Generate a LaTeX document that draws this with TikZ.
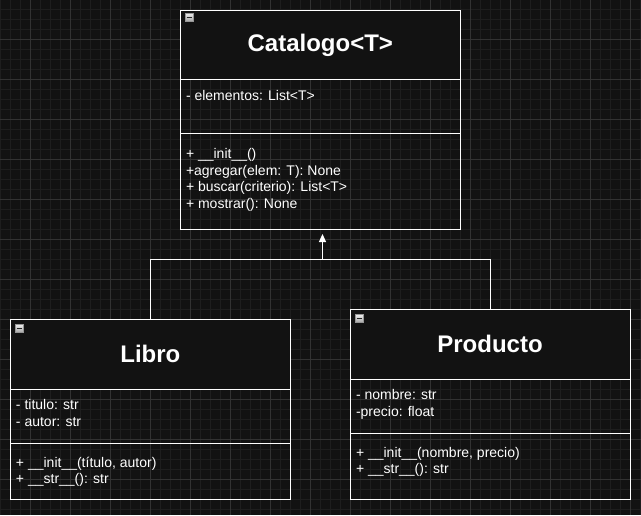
\documentclass[tikz,border=0pt]{standalone}
\usepackage{fontspec}
\setmainfont{Liberation Sans}
\usetikzlibrary{arrows.meta}
\definecolor{bgcol}{RGB}{18,18,18}
\definecolor{minorgrid}{RGB}{30,30,30}
\definecolor{majorgrid}{RGB}{50,50,50}
\definecolor{icontop}{RGB}{235,235,235}
\definecolor{iconbot}{RGB}{165,165,165}
\definecolor{iconborder}{RGB}{150,150,150}
\tikzset{
  classbox/.style={inner sep=0, minimum width=280},
  headfill/.style={fill=bgcol},
  boxline/.style={draw=white, line width=1pt},
  divider/.style={draw=white, line width=1pt},
  member/.style={anchor=base west, inner sep=0, text=white, font=\fontsize{14}{16.8}\selectfont},
  classtitle/.style={anchor=base, inner sep=0, text=white, font=\fontsize{24}{28}\selectfont\bfseries},
  minusicon/.style={draw=iconborder, line width=0.8pt, minimum size=8, inner sep=0,
    top color=icontop, bottom color=iconbot,
    path picture={\draw[black!85, line width=1.3pt] ([xshift=-2.6pt]path picture bounding box.center) -- ([xshift=2.6pt]path picture bounding box.center);}},
  link/.style={draw=white, line width=1pt},
}
\begin{document}
\begin{tikzpicture}[x=1pt,y=-1pt]
\useasboundingbox (0,0) rectangle (641,515);
\fill[bgcol] (0,0) rectangle (641,515);
% grid
\foreach \x in {0.5,10.5,...,640.5} \draw[minorgrid, line width=1pt] (\x,0) -- (\x,515);
\foreach \y in {9.5,19.5,...,514.5} \draw[minorgrid, line width=1pt] (0,\y) -- (641,\y);
\foreach \x in {30.5,70.5,...,640.5} \draw[majorgrid, line width=1pt] (\x,0) -- (\x,515);
\foreach \y in {39.5,79.5,...,514.5} \draw[majorgrid, line width=1pt] (0,\y) -- (641,\y);

% class boxes
\node[classbox, minimum height=219] (cat) at (320.5,120) {};
\node[classbox, minimum height=180] (lib) at (150.5,409.5) {};
\node[classbox, minimum height=190] (prod) at (490.5,404.5) {};

% header fills
\fill[headfill] (cat.north west) rectangle (460.5,79.5);
\fill[headfill] (lib.north west) rectangle (290.5,389.5);
\fill[headfill] (prod.north west) rectangle (630.5,379.5);
\draw[boxline] (cat.north west) rectangle (cat.south east);
\draw[boxline] (lib.north west) rectangle (lib.south east);
\draw[boxline] (prod.north west) rectangle (prod.south east);

% dividers
\draw[divider] (180.5,79.5) -- (460.5,79.5);
\draw[divider] (180.5,133.5) -- (460.5,133.5);
\draw[divider] (10.5,389.5) -- (290.5,389.5);
\draw[divider] (10.5,443.5) -- (290.5,443.5);
\draw[divider] (350.5,379.5) -- (630.5,379.5);
\draw[divider] (350.5,433.5) -- (630.5,433.5);

% icons
\node[minusicon] (caticon) at (189.3,17.4) {};
\node[minusicon] (libicon) at (19.5,328.5) {};
\node[minusicon] (prodicon) at (359.4,318.6) {};

% titles
\node[classtitle] (cattitle) at (320.3,51.8) {Catalogo<T>};
\node[classtitle] (libtitle) at (150.4,362) {Libro};
\node[classtitle] (prodtitle) at (490,352.3) {Producto};

% Catalogo members
\node[member] (catA) at (185.8,100) {- elementos: List<T>};
\node[member] (catM1) at (185.8,158.3) {+ \_\_init\_\_()};
\node[member] (catM2) at (185.8,175) {+agregar(elem: T): None};
\node[member] (catM3) at (185.8,191.7) {+ buscar(criterio): List<T>};
\node[member] (catM4) at (185.8,208.4) {+ mostrar(): None};

% Libro members
\node[member] (libA1) at (15.8,409.3) {- titulo: str};
\node[member] (libA2) at (15.8,426.1) {- autor: str};
\node[member] (libM1) at (15.8,467) {+ \_\_init\_\_(título, autor)};
\node[member] (libM2) at (15.8,483.8) {+ \_\_str\_\_(): str};

% Producto members
\node[member] (prodA1) at (355.8,399.3) {- nombre: str};
\node[member] (prodA2) at (355.8,416.1) {-precio: float};
\node[member] (prodM1) at (355.8,457) {+ \_\_init\_\_(nombre, precio)};
\node[member] (prodM2) at (355.8,473.8) {+ \_\_str\_\_(): str};

% connectors
\coordinate (jn) at (322.5,259.5);
\coordinate (tip) at (322.5,234);
\draw[link] (lib.north) |- (jn);
\draw[link] (prod.north) |- (jn);
\draw[link, -{Triangle[length=8pt,width=7pt]}] (jn) -- (tip);
\end{tikzpicture}
\end{document}
